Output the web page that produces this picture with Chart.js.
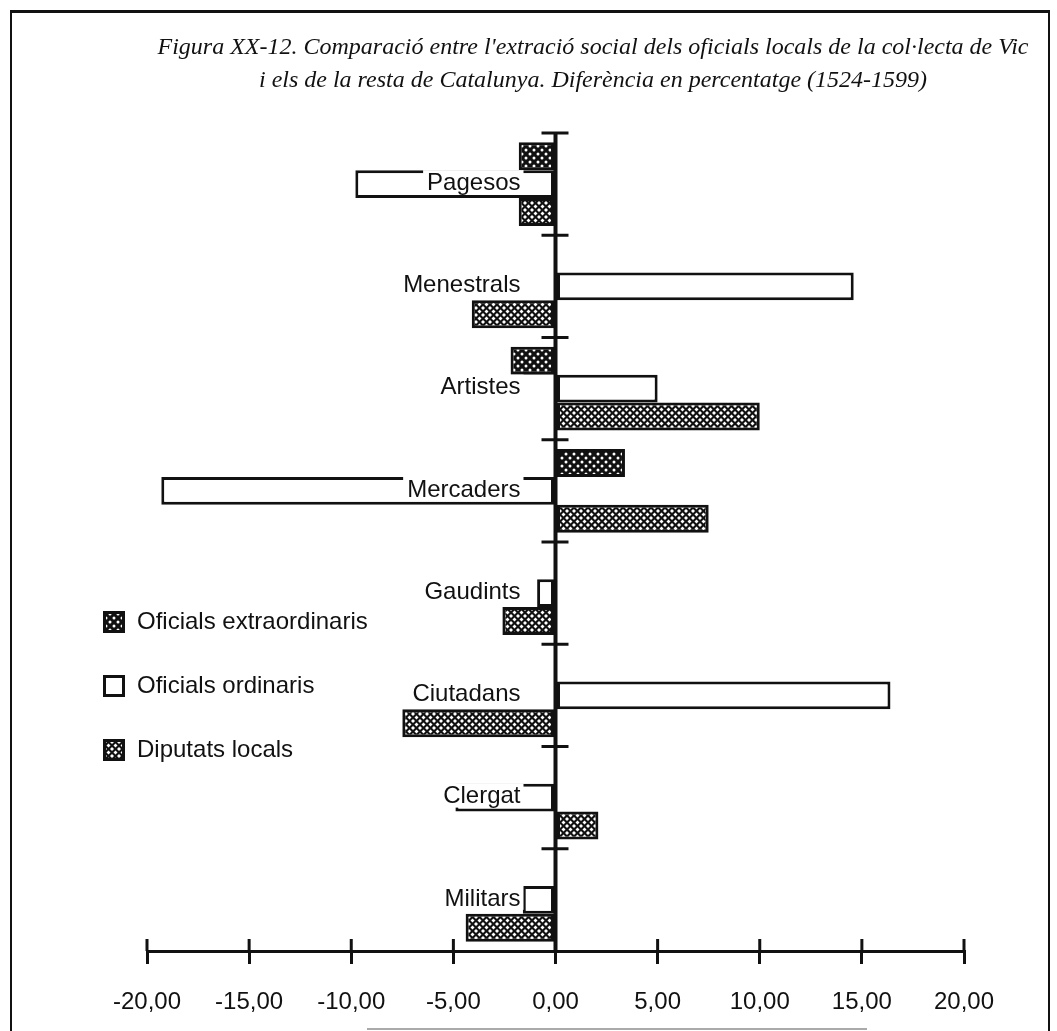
<!DOCTYPE html>
<html>
<head>
<meta charset="utf-8">
<script src="https://cdn.jsdelivr.net/npm/chart.js@4.4.1/dist/chart.umd.min.js"></script>
<style>
  html, body { margin: 0; padding: 0; background: #fff; }
  #wrap { position: relative; width: 1057px; height: 1031px; overflow: hidden; }
  #frame { position: absolute; left: 10px; top: 10px; width: 1036px; height: 1040px;
           border-top: 3px solid #111; border-left: 2px solid #111; border-right: 2px solid #111; }
  #title { position: absolute; left: 130px; width: 926px; top: 30px; text-align: center;
           font-family: "Liberation Serif", "DejaVu Serif", serif; font-style: italic;
           font-size: 24px; line-height: 33px; color: #111; }
  #scan { position: absolute; left: 367px; top: 1028px; width: 500px; height: 2px; background: #aaa; }
  canvas { position: absolute; left: 0; top: 0; }
</style>
</head>
<body>
<div id="wrap">
  <div id="frame"></div>
  <canvas id="chart" width="1057" height="1031"></canvas>
  <div id="title">Figura XX-12. Comparació entre l'extració social dels oficials locals de la col·lecta de Vic<br>i els de la resta de Catalunya. Diferència en percentatge (1524-1599)</div>
  <div id="scan"></div>
</div>
<script>
// dades
const categories = ['Pagesos', 'Menestrals', 'Artistes', 'Mercaders', 'Gaudints', 'Ciutadans', 'Clergat', 'Militars'];
const seriesNames = ['Oficials extraordinaris', 'Oficials ordinaris', 'Diputats locals'];
const extraordinaris = [-1.8, null, -2.2, 3.4, null, null, null, null];
const ordinaris = [-9.8, 14.6, 5.0, -19.3, -0.9, 16.4, -4.9, -1.6];
const diputats = [-1.8, -4.1, 10.0, 7.5, -2.6, -7.5, 2.1, -4.4];
const xTicks = [-20, -15, -10, -5, 0, 5, 10, 15, 20];

const INK = '#111';
const SANS = '"Liberation Sans", Arial, Helvetica, sans-serif';

const ctx = document.getElementById('chart').getContext('2d');

// trames
function dotPattern() {
    const c = document.createElement('canvas');
    c.width = 8; c.height = 8;
    const g = c.getContext('2d');
    g.fillStyle = INK; g.fillRect(0, 0, 8, 8);
    g.fillStyle = '#fff';
    [[2, 2], [6, 6]].forEach(([px, py]) => {
        g.beginPath(); g.arc(px, py, 1.5, 0, Math.PI * 2); g.fill();
    });
    return ctx.createPattern(c, 'repeat');
}

function hatchPattern() {
    const s = 7, r = 2.0;
    const c = document.createElement('canvas');
    c.width = s; c.height = s;
    const g = c.getContext('2d');
    g.fillStyle = INK; g.fillRect(0, 0, s, s);
    g.fillStyle = '#fff';
    [[s / 2, s / 2], [0, 0], [s, 0], [0, s], [s, s]].forEach(([cx, cy]) => {
        g.beginPath();
        g.moveTo(cx, cy - r); g.lineTo(cx + r, cy); g.lineTo(cx, cy + r); g.lineTo(cx - r, cy);
        g.closePath(); g.fill();
    });
    return ctx.createPattern(c, 'repeat');
}

const fills = [dotPattern(), '#fff', hatchPattern()];

// eix central, separadors, etiquetes i llegenda
const axisMarks = {
    id: 'axisMarks',
    afterDatasetsDraw(chart) {
        const { ctx, chartArea, scales: { x, y } } = chart;
        const x0 = x.getPixelForValue(0);
        const step = y.getPixelForValue(1) - y.getPixelForValue(0);
        ctx.save();
        ctx.strokeStyle = INK;

        ctx.lineWidth = 4;
        ctx.beginPath();
        ctx.moveTo(x0, y.getPixelForValue(0) - step / 2);
        ctx.lineTo(x0, chartArea.bottom);
        ctx.stroke();

        ctx.lineWidth = 3;
        categories.forEach((c, i) => {
            const yy = y.getPixelForValue(i) - step / 2;
            ctx.beginPath(); ctx.moveTo(x0 - 14, yy); ctx.lineTo(x0 + 13, yy); ctx.stroke();
        });

        xTicks.forEach(v => {
            const px = x.getPixelForValue(v);
            ctx.beginPath(); ctx.moveTo(px, chartArea.bottom - 12); ctx.lineTo(px, chartArea.bottom); ctx.stroke();
        });

        ctx.font = '24px ' + SANS;
        ctx.textAlign = 'right';
        ctx.textBaseline = 'middle';
        categories.forEach((c, i) => {
            const yy = y.getPixelForValue(i) - 1;
            const right = x0 - 35;
            const w = ctx.measureText(c).width;
            ctx.fillStyle = '#fff';
            ctx.fillRect(right - w - 4, yy - 13, w + 7, 24);
            ctx.fillStyle = INK;
            ctx.fillText(c, right, yy);
        });

        // llegenda
        const rows = [622, 686, 750];
        ctx.textAlign = 'left';
        chart.data.datasets.forEach((ds, i) => {
            const cy = rows[i];
            ctx.fillStyle = ds.backgroundColor;
            ctx.fillRect(103, cy - 11, 22, 22);
            ctx.lineWidth = 3;
            ctx.strokeRect(104.5, cy - 9.5, 19, 19);
            ctx.fillStyle = INK;
            ctx.fillText(ds.label, 137, cy);
        });
        ctx.restore();
    }
};

new Chart(ctx, {
    type: 'bar',
    data: {
        labels: categories,
        datasets: [
            { label: seriesNames[0], data: extraordinaris, backgroundColor: fills[0] },
            { label: seriesNames[1], data: ordinaris, backgroundColor: fills[1] },
            { label: seriesNames[2], data: diputats, backgroundColor: fills[2] }
        ]
    },
    options: {
        indexAxis: 'y',
        responsive: false,
        animation: false,
        layout: { padding: { left: 147, right: 93, top: 133, bottom: 0 } },
        datasets: {
            bar: { borderColor: INK, borderWidth: 3, borderSkipped: false, categoryPercentage: 0.82, barPercentage: 1 }
        },
        plugins: { legend: { display: false }, tooltip: { enabled: false } },
        scales: {
            x: {
                min: -20, max: 20,
                afterFit: s => { s.height = 80; },
                afterBuildTicks: s => { s.ticks = xTicks.map(v => ({ value: v })); },
                grid: { drawOnChartArea: false, color: INK, lineWidth: 3, tickLength: 13 },
                border: { color: INK, width: 3 },
                ticks: {
                    padding: 24, color: INK, maxRotation: 0, autoSkip: false,
                    font: { family: SANS, size: 24 },
                    callback: v => v.toFixed(2).replace('.', ',')
                }
            },
            y: { display: false }
        }
    },
    plugins: [axisMarks]
});
</script>
</body>
</html>
